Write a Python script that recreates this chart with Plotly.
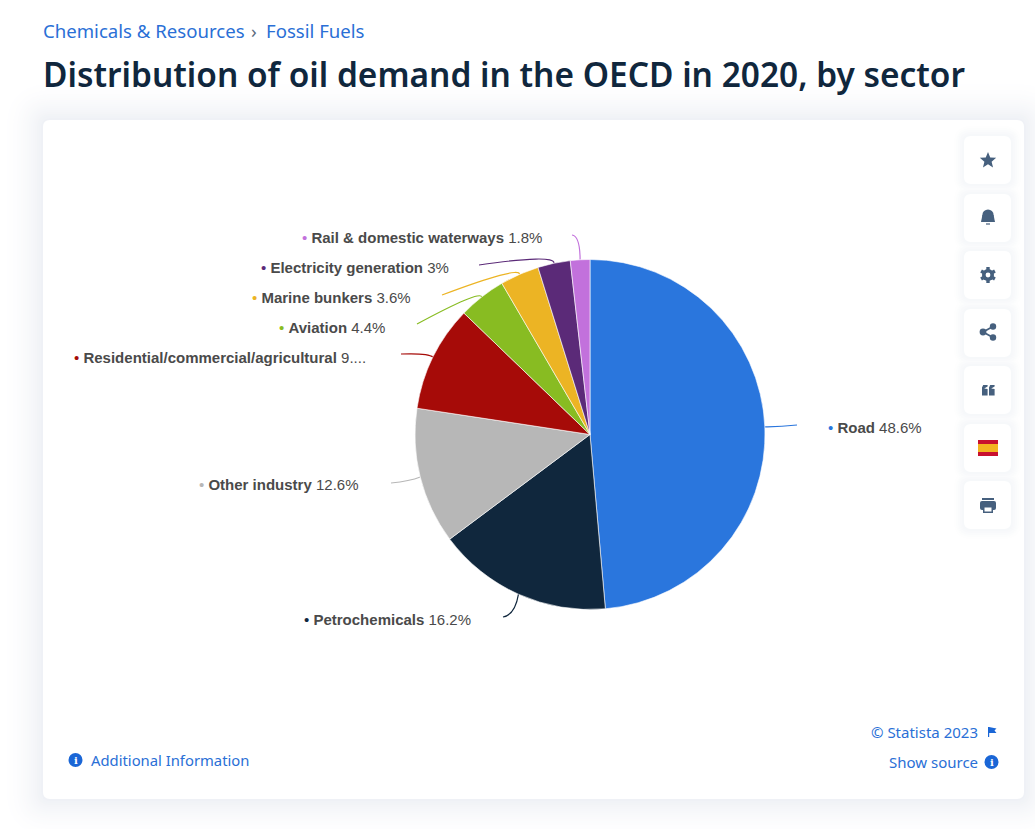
import numpy as np
import plotly.graph_objects as go

W, H = 1035, 829

# ---- data ----
sectors = ["Road", "Petrochemicals", "Other industry", "Residential/commercial/agricultural",
           "Aviation", "Marine bunkers", "Electricity generation", "Rail & domestic waterways"]
shares = [48.6, 16.2, 12.6, 9.8, 4.4, 3.6, 3.0, 1.8]
share_labels = ["48.6%", "16.2%", "12.6%", "9....", "4.4%", "3.6%", "3%", "1.8%"]
slice_colors = ["#2a76dd", "#10273d", "#b7b7b7", "#a60b08", "#88bc22", "#ecb424", "#5b2a78", "#c271dc"]

# ---- layout constants (pixels) ----
CX, CY, R = 590, 434.5, 175
label_anchor = [(827, 427), (303, 619), (198, 484.5), (73, 357), (278, 327), (251, 297), (260, 267), (301, 237)]
# connector: outer end, control point
conn_end = [(797, 425), (503, 617), (391, 483), (401, 354), (417, 324), (442, 295), (479, 265), (572, 235)]
conn_ctrl = [(780, 427), (515, 615), (410, 481), (428, 353), (480, 290), (519, 266), (555, 254), (580, 236)]

PX = lambda x: x / W
PY = lambda y: 1 - y / H
ink_blue = "#1a66d6"
link_blue = "#2a6fd6"
icon = "#46607e"

shapes = []


def poly(points, fill, line=None, lw=0):
    d = "M " + " L ".join(f"{PX(x):.5f},{PY(y):.5f}" for x, y in points) + " Z"
    shapes.append(dict(type="path", xref="paper", yref="paper", path=d, fillcolor=fill,
                       line=dict(color=line or fill, width=lw), layer="below"))


def rrect(x0, y0, x1, y1, r, fill):
    p = lambda x, y: f"{PX(x):.5f},{PY(y):.5f}"
    d = (f"M {p(x0 + r, y0)} L {p(x1 - r, y0)} Q {p(x1, y0)} {p(x1, y0 + r)} "
         f"L {p(x1, y1 - r)} Q {p(x1, y1)} {p(x1 - r, y1)} L {p(x0 + r, y1)} "
         f"Q {p(x0, y1)} {p(x0, y1 - r)} L {p(x0, y0 + r)} Q {p(x0, y0)} {p(x0 + r, y0)} Z")
    shapes.append(dict(type="path", xref="paper", yref="paper", path=d, fillcolor=fill,
                       line=dict(width=0), layer="below"))


def circle(cx, cy, r, fill):
    shapes.append(dict(type="circle", xref="paper", yref="paper", x0=PX(cx - r), x1=PX(cx + r),
                       y0=PY(cy + r), y1=PY(cy - r), fillcolor=fill, line=dict(width=0), layer="below"))


def seg(x0, y0, x1, y1, col, w):
    shapes.append(dict(type="line", xref="paper", yref="paper", x0=PX(x0), x1=PX(x1), y0=PY(y0), y1=PY(y1),
                       line=dict(color=col, width=w), layer="below"))


def mix(t, end):
    c = [round(255 + (a - 255) * t) for a in end]
    return f"rgb({c[0]},{c[1]},{c[2]})"


# soft, wide shadow around the card on a white page
for g in range(44, 0, -2):
    t = (1 - g / 45) ** 2
    rrect(43 - g, 120 - g, 1024 + g, 799 + g, 8 + g, mix(t, (238, 240, 245)))
rrect(43, 120, 1024, 799, 7, "#ffffff")

# side buttons, with the faint shadow strip they cast on the card
btn_tops = [136, 194, 251, 309, 366, 424, 481]
for g in range(10, 0, -2):
    t = (1 - g / 11) * 0.9
    for b in btn_tops:
        rrect(964 - g, b - g, 1011 + g, b + 48 + g, 7 + g, mix(t, (243, 245, 248)))
for t in btn_tops:
    rrect(964, t, 1011, t + 48, 7, "#ffffff")

# star
sc = (988, 160.5)
star = [(sc[0] + (8.6 if k % 2 == 0 else 3.8) * np.sin(k * np.pi / 5),
         sc[1] - (8.6 if k % 2 == 0 else 3.8) * np.cos(k * np.pi / 5)) for k in range(10)]
poly(star, icon)
# bell
circle(988, 215, 5.6, icon)
poly([(982.4, 215), (993.6, 215), (995, 222), (981, 222)], icon)
seg(986, 224, 990, 224, icon, 1.2)
# gear
circle(988, 275, 6, icon)
for k in range(6):
    a = k * np.pi / 3 + np.pi / 6
    seg(988 + 4 * np.cos(a), 275 + 4 * np.sin(a), 988 + 8 * np.cos(a), 275 + 8 * np.sin(a), icon, 3.4)
circle(988, 275, 2.4, "#ffffff")
# share
seg(993, 326.5, 983, 332, icon, 1.8)
seg(993, 337.5, 983, 332, icon, 1.8)
circle(993, 326.5, 3.2, icon)
circle(993, 337.5, 3.2, icon)
circle(983, 332, 3.4, icon)
# quote
for qx in (982, 989):
    poly([(qx + 1.2, 385), (qx + 5.6, 385), (qx + 5.6, 386.5), (qx + 2.2, 388.5), (qx + 5.6, 389),
          (qx + 5.6, 395.5), (qx, 395.5), (qx, 387.5)], icon)
# Spanish flag
poly([(978, 440), (998, 440), (998, 456), (978, 456)], "#c8102e")
poly([(978, 444), (998, 444), (998, 452), (978, 452)], "#f3b320")
# printer
poly([(982, 500), (994, 500), (994, 498), (982, 498)], icon)
rrect(980, 501, 996, 510, 2, icon)
poly([(983, 506), (993, 506), (993, 513), (983, 513)], icon)
poly([(984.5, 507.5), (991.5, 507.5), (991.5, 511.5), (984.5, 511.5)], "#ffffff")
# info dots and flag
for cx, cy in [(75.5, 760), (991.5, 762)]:
    circle(cx, cy, 7, ink_blue)
poly([(988, 727), (989.2, 727), (989.2, 737), (988, 737)], ink_blue)
poly([(989, 727), (996.5, 728.5), (994.5, 730.5), (996.5, 733), (989, 733)], ink_blue)

# connectors, starting on each slice's mid-angle
cum = np.cumsum([0] + shares[:-1])
for s, c0, e, q, col in zip(shares, cum, conn_end, conn_ctrl, slice_colors):
    a = 2 * np.pi * (c0 + s / 2) / sum(shares)
    sx, sy = CX + R * np.sin(a), CY - R * np.cos(a)
    d = f"M {PX(e[0]):.5f},{PY(e[1]):.5f} Q {PX(q[0]):.5f},{PY(q[1]):.5f} {PX(sx):.5f},{PY(sy):.5f}"
    shapes.append(dict(type="path", xref="paper", yref="paper", path=d, line=dict(color=col, width=1.2), layer="below"))

annotations = []


def text(x, y, s, size, color, family="Noto Sans", anchor="left", weight=None):
    f = dict(family=family, size=size, color=color)
    if weight:
        f["weight"] = weight
    annotations.append(dict(x=PX(x), y=PY(y), xref="paper", yref="paper", text=s, showarrow=False,
                            xanchor=anchor, yanchor="middle", font=f, align=anchor, borderpad=0))


text(42, 31, "Chemicals &amp; Resources", 18.6, link_blue)
text(250, 31, "›", 18.6, "#5b6b7d")
text(265, 31, "Fossil Fuels", 18.6, link_blue)
text(42, 74, "Distribution of oil demand in the OECD in 2020, by sector", 33.45, "#10273d", weight=600)
text(89.5, 760, "Additional Information", 14.8, link_blue)
text(979, 732, "© Statista 2023", 15, link_blue, anchor="right")
text(979, 761.5, "Show source", 15, link_blue, anchor="right")
for cx, cy in [(75.5, 760), (991.5, 762)]:
    text(cx, cy, "<b>i</b>", 10, "#ffffff", family="DejaVu Serif", anchor="center")

for name, lab, col, (x, y) in zip(sectors, share_labels, slice_colors, label_anchor):
    nm = name.replace("&", "&amp;")
    text(x, y, f'<span style="color:{col}">•</span> <b>{nm}</b> {lab}', 15, "#4a4a4a", family="Liberation Sans")

fig = go.Figure(go.Pie(
    labels=sectors, values=shares, sort=False, direction="clockwise", rotation=0,
    marker=dict(colors=slice_colors, line=dict(color="#ffffff", width=0.6)),
    textinfo="none", hoverinfo="label+percent", showlegend=False,
    domain=dict(x=[PX(CX - R), PX(CX + R)], y=[PY(CY + R), PY(CY - R)]),
))
fig.update_layout(width=W, height=H, margin=dict(l=0, r=0, t=0, b=0), paper_bgcolor="#ffffff",
                  shapes=shapes, annotations=annotations, showlegend=False)
fig.write_html("out.html", config=dict(displayModeBar=False),
               post_script="document.body.style.margin='0';document.body.style.overflow='hidden';")
